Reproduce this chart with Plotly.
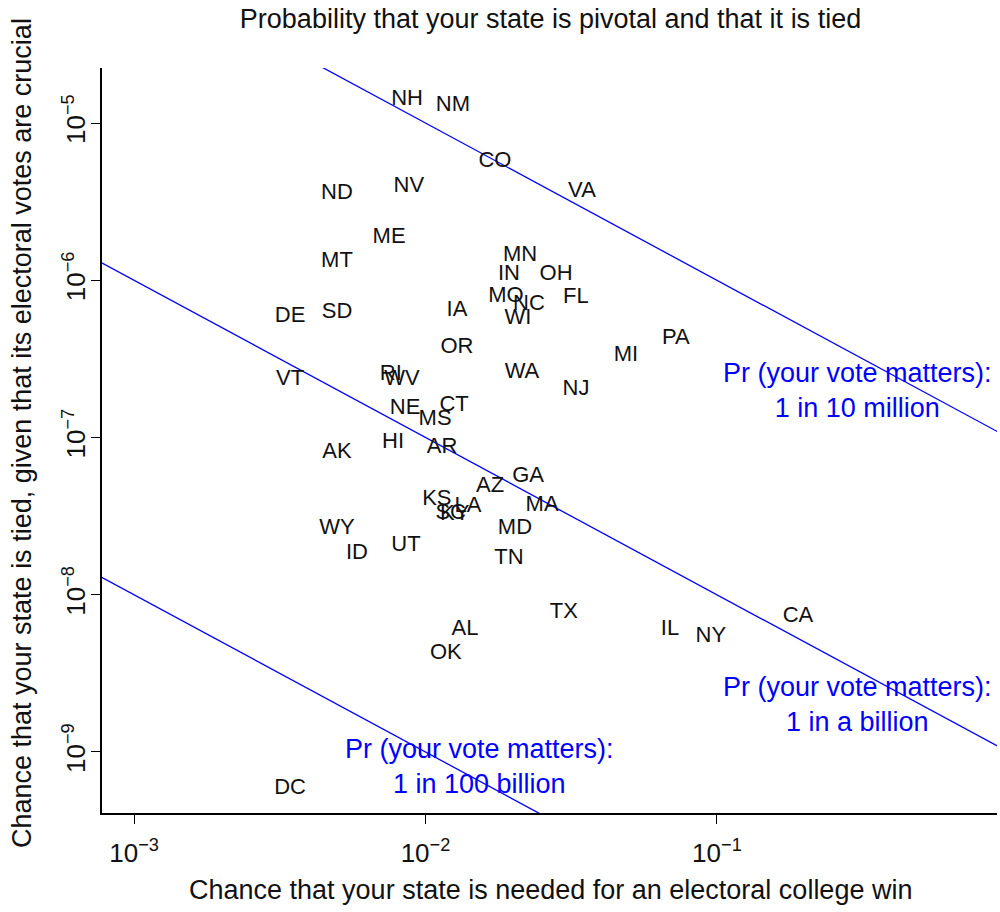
import numpy as np
import plotly.graph_objects as go

# ---- data ----
states = ["NH", "NM", "CO", "VA", "ND", "NV", "ME", "MN", "MT", "IN", "OH",
          "FL", "MO", "NC", "WI", "DE", "SD", "IA", "PA", "OR", "MI", "WA",
          "RI", "WV", "VT", "NJ", "NE", "CT", "MS", "HI", "AR", "AK", "GA",
          "AZ", "KS", "SC", "KY", "LA", "MA", "MD", "WY", "UT", "ID", "TN",
          "TX", "IL", "NY", "CA", "AL", "OK", "DC"]
p_needed = [0.00865, 0.01242, 0.01731, 0.03443, 0.00497, 0.00877, 0.00750,
            0.02110, 0.00497, 0.01933, 0.02805, 0.03283, 0.01888, 0.02265,
            0.02076, 0.00343, 0.00497, 0.01282, 0.07228, 0.01282, 0.04875,
            0.02143, 0.00760, 0.00830, 0.00343, 0.03283, 0.00851, 0.01253,
            0.01079, 0.00774, 0.01140, 0.00497, 0.02249, 0.01665, 0.01094,
            0.01220, 0.01260, 0.01399, 0.02512, 0.02028, 0.00497, 0.00857,
            0.00582, 0.01933, 0.02985, 0.06900, 0.09535, 0.1897, 0.01367,
            0.01175, 0.00343]
p_tied = [1.42e-5, 1.30e-5, 5.72e-6, 3.69e-6, 3.58e-6, 3.96e-6, 1.88e-6,
          1.445e-6, 1.32e-6, 1.092e-6, 1.092e-6, 7.80e-7, 7.91e-7, 7.05e-7,
          5.74e-7, 5.91e-7, 6.26e-7, 6.45e-7, 4.28e-7, 3.76e-7, 3.34e-7,
          2.61e-7, 2.53e-7, 2.35e-7, 2.35e-7, 2.03e-7, 1.537e-7, 1.605e-7,
          1.308e-7, 9.34e-8, 8.68e-8, 8.06e-8, 5.68e-8, 4.91e-8, 4.05e-8,
          3.30e-8, 3.25e-8, 3.66e-8, 3.72e-8, 2.62e-8, 2.62e-8, 2.07e-8,
          1.84e-8, 1.71e-8, 7.75e-9, 6.05e-9, 5.46e-9, 7.31e-9, 6.05e-9,
          4.26e-9, 5.89e-10]

# iso-probability lines: Pr(your vote matters) = x * y
line_probs = [1e-7, 1e-9, 1e-11]
line_labels = ["Pr (your vote matters):<br>1 in 10 million",
               "Pr (your vote matters):<br>1 in a billion",
               "Pr (your vote matters):<br>1 in 100 billion"]
x_ticks = [1e-3, 1e-2, 1e-1]
x_tick_text = ["10<sup>−3</sup>", "10<sup>−2</sup>", "10<sup>−1</sup>"]
y_ticks = [1e-9, 1e-8, 1e-7, 1e-6, 1e-5]
y_tick_text = ["10<sup>−9</sup>", "10<sup>−8</sup>", "10<sup>−7</sup>",
               "10<sup>−6</sup>", "10<sup>−5</sup>"]

FONT = "Liberation Sans, Arial, Helvetica, sans-serif"
INK = "#111111"

fig = go.Figure()

x_line = np.array([1e-4, 10.0])
for p in line_probs:
    fig.add_trace(go.Scatter(x=x_line, y=p / x_line, mode="lines",
                             line=dict(color="#0000FF", width=1.3),
                             hoverinfo="skip", showlegend=False))

fig.add_trace(go.Scatter(x=p_needed, y=p_tied, mode="text", text=states,
                         textposition="middle center",
                         textfont=dict(family=FONT, size=22, color=INK),
                         showlegend=False, cliponaxis=False))

# annotation anchor positions (layout, log10 units)
ann_pos = [(-0.516, -6.698), (-0.516, -8.698), (-1.816, -9.092)]
for (ax_, ay_), txt in zip(ann_pos, line_labels):
    fig.add_annotation(x=ax_, y=ay_, xref="x", yref="y", text=txt,
                       showarrow=False, align="center",
                       font=dict(family=FONT, size=27, color="#0000FF"))

# axis titles
fig.add_annotation(x=0.501, y=-0.1034, xref="paper", yref="paper",
                   text="Chance that your state is needed for an electoral college win",
                   showarrow=False, xanchor="center", yanchor="middle",
                   font=dict(family=FONT, size=27, color=INK))
fig.add_annotation(x=-0.0894, y=0.510, xref="paper", yref="paper",
                   text="Chance that your state is tied, given that its electoral votes are crucial",
                   showarrow=False, xanchor="center", yanchor="middle", textangle=-90,
                   font=dict(family=FONT, size=27, color=INK))

fig.update_layout(
    width=1000, height=912,
    margin=dict(l=102, r=3, t=68, b=99),
    paper_bgcolor="white", plot_bgcolor="white",
    title=dict(text="Probability that your state is pivotal and that it is tied",
               x=0.5505, xanchor="center", y=0.980, yanchor="middle",
               font=dict(family=FONT, size=27, color=INK)),
    xaxis=dict(type="log", range=[-3.110, -0.039],
               tickvals=x_ticks, ticktext=x_tick_text,
               ticks="outside", ticklen=9, tickwidth=1.3, tickcolor="black",
               showline=True, linecolor="black", linewidth=1.6,
               showgrid=False, zeroline=False, ticklabelstandoff=7,
               tickfont=dict(family=FONT, size=26, color=INK)),
    yaxis=dict(type="log", range=[-9.388, -4.650],
               tickvals=y_ticks, ticktext=y_tick_text,
               tickangle=-90,
               ticks="outside", ticklen=9, tickwidth=1.3, tickcolor="black",
               showline=True, linecolor="black", linewidth=1.6,
               showgrid=False, zeroline=False, ticklabelstandoff=-4,
               tickfont=dict(family=FONT, size=26, color=INK)),
)

fig.write_html("out.html", config={"displayModeBar": False},
               post_script="document.body.style.margin='0';document.body.style.overflow='hidden';")
